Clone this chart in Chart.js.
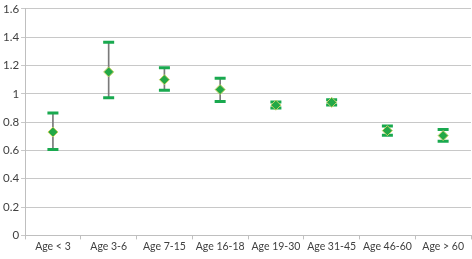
<!DOCTYPE html>
<html>
<head>
<meta charset="utf-8">
<script src="https://cdn.jsdelivr.net/npm/chart.js@4"></script>
<style>
  html, body { margin: 0; padding: 0; background: #fff; }
  #chart { display: block; }
</style>
</head>
<body>
<canvas id="chart" width="472" height="259"></canvas>
<script>
// values
const ageGroups = ['Age < 3', 'Age 3-6', 'Age 7-15', 'Age 16-18', 'Age 19-30', 'Age 31-45', 'Age 46-60', 'Age > 60'];
const meanVals  = [0.73, 1.155, 1.10, 1.03, 0.92, 0.94, 0.74, 0.705];
const upperVals = [0.865, 1.365, 1.185, 1.11, 0.943, 0.958, 0.772, 0.748];
const lowerVals = [0.607, 0.972, 1.025, 0.945, 0.9, 0.922, 0.708, 0.665];
const yTicks    = [0, 0.2, 0.4, 0.6, 0.8, 1, 1.2, 1.4, 1.6];

const capGreen = '#19a94f';
const labelFont = { family: 'Lato', size: 10.5 };

new Chart(document.getElementById('chart'), {
  type: 'bar',
  data: {
    labels: ageGroups,
    datasets: [
      {
        type: 'line',
        label: 'mean',
        data: meanVals,
        showLine: false,
        pointStyle: 'rectRot',
        pointRadius: 5,
        pointBackgroundColor: '#22a846',
        pointBorderColor: '#c5d063',
        pointBorderWidth: 1,
        order: 0
      },
      {
        type: 'line',
        label: 'upper',
        data: upperVals,
        showLine: false,
        pointStyle: 'line',
        pointRadius: 5.5,
        pointBorderColor: capGreen,
        pointBorderWidth: 3,
        order: 1
      },
      {
        type: 'line',
        label: 'lower',
        data: lowerVals,
        showLine: false,
        pointStyle: 'line',
        pointRadius: 5.5,
        pointBorderColor: capGreen,
        pointBorderWidth: 3,
        order: 1
      },
      {
        label: 'range',
        data: lowerVals.map((lo, i) => [lo, upperVals[i]]),
        backgroundColor: '#7a7a7a',
        barThickness: 1,
        order: 2
      }
    ]
  },
  options: {
    responsive: false,
    animation: false,
    layout: { autoPadding: false, padding: { top: -2, right: 1, left: 1, bottom: 5 } },
    plugins: { legend: { display: false }, tooltip: { enabled: false } },
    scales: {
      x: {
        afterFit: s => { s.paddingLeft = 0; s.paddingRight = 0; },
        grid: { drawOnChartArea: false, drawTicks: true, tickLength: 4, color: '#c0c0c0' },
        border: { color: '#bfbfbf' },
        ticks: { color: '#404040', font: labelFont, maxRotation: 0, autoSkip: false, padding: 1 }
      },
      y: {
        min: 0,
        max: 1.6,
        afterBuildTicks: axis => { axis.ticks = yTicks.map(v => ({ value: v })); },
        grid: { color: '#c8c8c8', tickLength: 4 },
        border: { color: '#bfbfbf' },
        ticks: { color: '#404040', font: { family: 'Lato', size: 11.5 }, padding: 2, callback: v => String(v) }
      }
    }
  }
});
</script>
</body>
</html>
